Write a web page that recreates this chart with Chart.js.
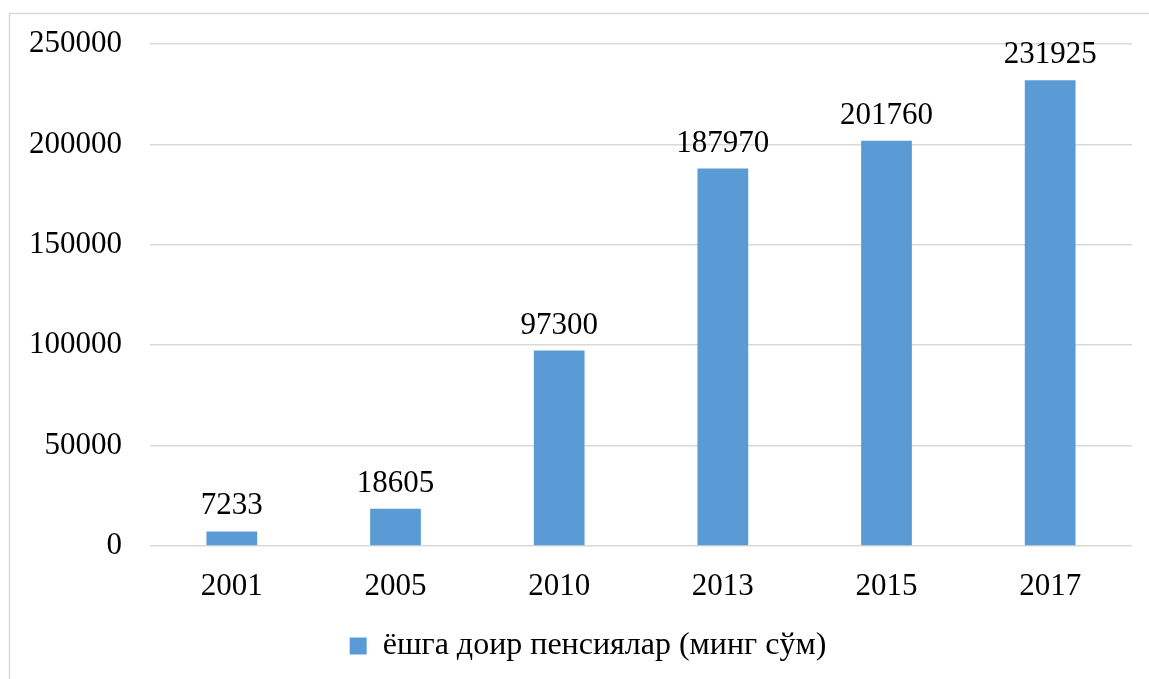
<!DOCTYPE html>
<html>
<head>
<meta charset="utf-8">
<script src="https://cdn.jsdelivr.net/npm/chart.js@4.4.0/dist/chart.umd.min.js"></script>
<style>
  html, body { margin: 0; padding: 0; background: #fff; }
  #wrap { position: absolute; left: 0; top: 0; width: 1149px; height: 679px; }
</style>
</head>
<body>
<div id="wrap"><canvas id="chart"></canvas></div>
<script>
// data
const years = ['2001', '2005', '2010', '2013', '2015', '2017'];
const pensions = [7233, 18605, 97300, 187970, 201760, 231925];
const seriesName = 'ёшга доир пенсиялар (минг сўм)';
const yTicks = [0, 50000, 100000, 150000, 200000, 250000];

const FONT = '"Liberation Serif", "Times New Roman", serif';
const BLUE = '#5B9BD5';
const GRID = '#d9d9d9';

// outer frame of the chart
const framePlugin = {
    id: 'frame',
    afterLayout(chart) {
        // legend in the original sits a bit right of centre
        chart.legend.left += 22;
        chart.legend.right += 22;
    },
    beforeDraw(chart) {
        const ctx = chart.ctx;
        ctx.save();
        ctx.fillStyle = '#fff';
        ctx.fillRect(0, 0, chart.width, chart.height);
        ctx.strokeStyle = GRID;
        ctx.lineWidth = 1.5;
        ctx.strokeRect(9.5, 13.5, chart.width + 10, chart.height + 10);
        ctx.restore();
    }
};

// value labels above the bars
const valueLabels = {
    id: 'valueLabels',
    afterDatasetsDraw(chart) {
        const ctx = chart.ctx;
        ctx.save();
        ctx.font = '31px ' + FONT;
        ctx.fillStyle = '#000';
        ctx.textAlign = 'center';
        ctx.textBaseline = 'alphabetic';
        chart.getDatasetMeta(0).data.forEach((bar, i) => {
            ctx.fillText(String(pensions[i]), bar.x, bar.y - 17);
        });
        ctx.restore();
    }
};

new Chart(document.getElementById('chart').getContext('2d'), {
    type: 'bar',
    data: {
        labels: years,
        datasets: [{
            label: seriesName,
            data: pensions,
            backgroundColor: BLUE,
            borderWidth: 0,
            barPercentage: 0.31,
            categoryPercentage: 1
        }]
    },
    options: {
        responsive: true,
        maintainAspectRatio: false,
        animation: false,
        layout: { padding: { left: 0, right: 17, top: 44, bottom: 7 } },
        plugins: {
            legend: {
                position: 'bottom',
                labels: {
                    color: '#000',
                    font: { family: FONT, size: 32 },
                    boxWidth: 17,
                    boxHeight: 17,
                    padding: 10
                }
            },
            tooltip: { enabled: false }
        },
        scales: {
            x: {
                grid: { display: false },
                border: { display: false },
                ticks: { color: '#000', font: { family: FONT, size: 31 }, padding: 14 },
                afterFit(scale) { scale.height = 74; }
            },
            y: {
                min: 0,
                max: 250000,
                afterBuildTicks(scale) { scale.ticks = yTicks.map(v => ({ value: v })); },
                afterFit(scale) {
                    scale.width = 150;
                    scale.paddingTop = 0;
                    scale.paddingBottom = 0;
                },
                grid: { color: GRID, lineWidth: 1.5, drawTicks: false },
                border: { display: false },
                ticks: {
                    color: '#000',
                    font: { family: FONT, size: 31 },
                    padding: 28,
                    callback: v => String(v)
                }
            }
        }
    },
    plugins: [framePlugin, valueLabels]
});
</script>
</body>
</html>
